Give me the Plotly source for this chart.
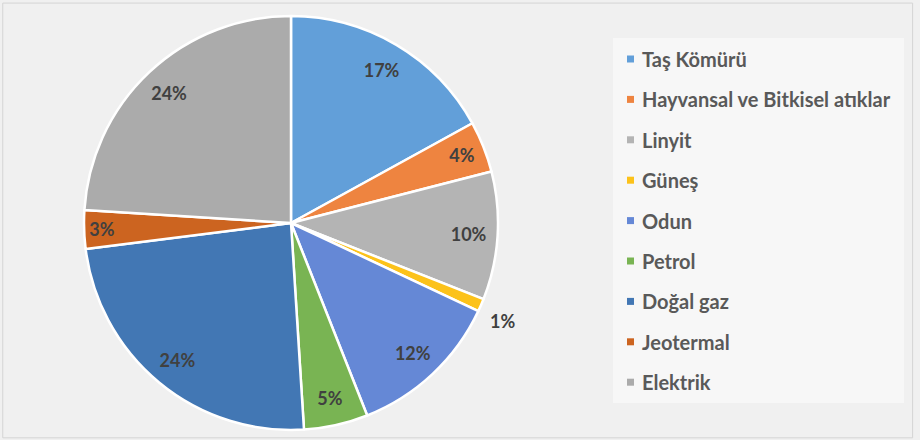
import plotly.graph_objects as go

# Energy sources and their shares (%)
labels = ["Taş Kömürü", "Hayvansal ve Bitkisel atıklar", "Linyit", "Güneş", "Odun",
          "Petrol", "Doğal gaz", "Jeotermal", "Elektrik"]
shares = [17, 4, 10, 1, 12, 5, 24, 3, 24]
colors = ["#629fd9", "#ee8440", "#b4b4b4", "#fcc21a", "#6588d6",
          "#79b453", "#4277b4", "#cc6420", "#ababab"]
# slices whose percentage sits outside the pie
outside = [False, False, False, True, False, False, False, False, False]

W, H = 920, 440
cx, cy, R = 291, 223, 207  # pie centre and radius in pixels


def dom(r):
    return dict(x=[(cx - r) / W, (cx + r) / W],
                y=[(H - cy - r) / H, (H - cy + r) / H])


clear = ["rgba(0,0,0,0)"] * len(labels)
label_font = dict(family="Lato", size=18, color="#404040", weight="bold")

fig = go.Figure()
# coloured slices
fig.add_trace(go.Pie(
    labels=labels, values=shares, sort=False,
    direction="clockwise", rotation=0,
    marker=dict(colors=colors, line=dict(color="white", width=2.5)),
    textinfo="none", hoverinfo="label+percent",
    showlegend=False, domain=dom(R),
))
# percentage labels inside the slices, set in the outer ring
fig.add_trace(go.Pie(
    labels=labels, values=shares, sort=False,
    direction="clockwise", rotation=0, hole=0.72,
    marker=dict(colors=clear, line=dict(width=0)),
    texttemplate=["" if o else "%{value}%" for o in outside],
    textposition="inside",
    insidetextorientation="horizontal",
    textfont=label_font,
    hoverinfo="skip", showlegend=False, domain=dom(R),
))
# percentage labels outside the slices
fig.add_trace(go.Pie(
    labels=labels, values=shares, sort=False,
    direction="clockwise", rotation=3, hole=0.95,
    marker=dict(colors=clear, line=dict(width=0)),
    texttemplate=["%{value}%" if o else "" for o in outside],
    textposition="outside",
    textfont=label_font,
    hoverinfo="skip", showlegend=False, domain=dom(R + 9),
))

shapes = [
    # outer frame
    dict(type="rect", xref="paper", yref="paper", x0=0.003, x1=0.992, y0=0.005, y1=0.993,
         line=dict(color="#d4d4d4", width=1), fillcolor="#f0f0f0", layer="below"),
    # legend panel
    dict(type="rect", xref="paper", yref="paper",
         x0=613 / W, x1=904 / W, y0=1 - 403 / H, y1=1 - 38 / H,
         line=dict(width=0), fillcolor="#f7f7f7", layer="below"),
]
annotations = []
y_first, step = 59, 40.4
for i, (lab, col) in enumerate(zip(labels, colors)):
    yc = y_first + i * step
    shapes.append(dict(type="rect", xref="paper", yref="paper",
                       x0=627 / W, x1=634 / W, y0=1 - (yc + 3.5) / H, y1=1 - (yc - 3.5) / H,
                       line=dict(width=0), fillcolor=col))
    annotations.append(dict(text=lab, xref="paper", yref="paper", x=640 / W, y=1 - yc / H,
                            xanchor="left", yanchor="middle", showarrow=False,
                            font=dict(family="Lato", size=20, color="#595959", weight="bold")))

fig.update_layout(
    width=W, height=H,
    margin=dict(l=0, r=0, t=0, b=0, autoexpand=False),
    paper_bgcolor="#f0f0f0",
    plot_bgcolor="#f0f0f0",
    uniformtext=dict(minsize=18, mode="show"),
    shapes=shapes,
    annotations=annotations,
)

fig.write_html("out.html")
